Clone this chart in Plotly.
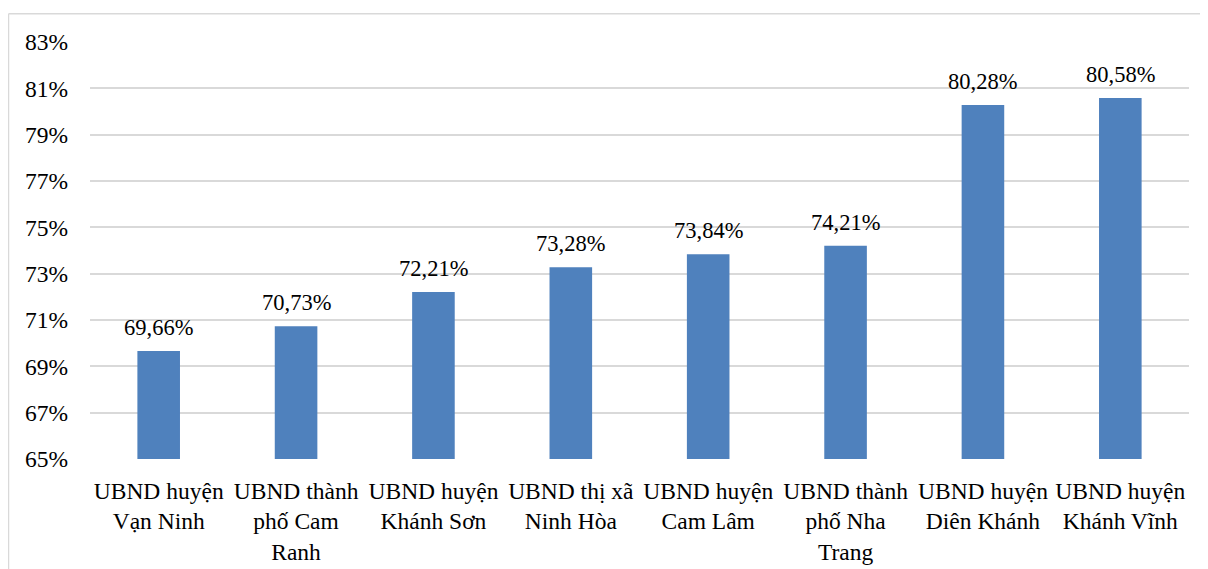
import plotly.graph_objects as go

categories = [
    "UBND huyện<br>Vạn Ninh",
    "UBND thành<br>phố Cam<br>Ranh",
    "UBND huyện<br>Khánh Sơn",
    "UBND thị xã<br>Ninh Hòa",
    "UBND huyện<br>Cam Lâm",
    "UBND thành<br>phố Nha<br>Trang",
    "UBND huyện<br>Diên Khánh",
    "UBND huyện<br>Khánh Vĩnh",
]
values = [69.66, 70.73, 72.21, 73.28, 73.84, 74.21, 80.28, 80.58]
labels = [f"{v:.2f}%".replace(".", ",") for v in values]
tick_vals = list(range(65, 84, 2))
tick_text = [f"{t}%" for t in tick_vals]

W, H = 1208, 569
OFF = 8  # page body offset
ML, MR, MT, MB = 90 - OFF, 19 + OFF, 42 - OFF, 107 + OFF
font = "Liberation Serif, Times New Roman, serif"

fig = go.Figure(go.Bar(
    x=categories, y=values,
    marker=dict(color="#4F81BD", line=dict(width=0)),
    hoverinfo="x+y",
))

for c, v, t in zip(categories, values, labels):
    fig.add_annotation(x=c, y=v, text=t, showarrow=False, yanchor="bottom",
                       yshift=9, font=dict(family=font, size=22.5, color="#000000"))

pw = W - ML - MR
ph = H - MT - MB
def px(x):
    return (x - OFF - ML) / pw
def py(y):
    return (H - MB - (y - OFF)) / ph

fig.update_layout(
    width=W, height=H,
    margin=dict(l=ML, r=MR, t=MT, b=MB),
    paper_bgcolor="white", plot_bgcolor="white",
    bargap=0.69,
    showlegend=False,
    font=dict(family=font, size=23.5, color="#000000"),
    xaxis=dict(showgrid=False, showline=False, ticks="", tickfont=dict(size=23.5), tickangle=0,
               ticklabelstandoff=15),
    yaxis=dict(range=[65, 83], tickvals=tick_vals, ticktext=tick_text,
               showgrid=True, gridcolor="#D9D9D9", gridwidth=1.5,
               zeroline=False, showline=False, ticks="",
               tickfont=dict(size=23.5), ticklabelstandoff=21),
    shapes=[
        dict(type="line", xref="paper", yref="paper", x0=px(8.5), x1=px(1216), y0=py(13.5), y1=py(13.5),
             line=dict(color="#D9D9D9", width=1.5)),
        dict(type="line", xref="paper", yref="paper", x0=px(8.5), x1=px(8.5), y0=py(13.5), y1=py(577),
             line=dict(color="#D9D9D9", width=1.5)),
    ],
)
fig.write_html("out.html")
